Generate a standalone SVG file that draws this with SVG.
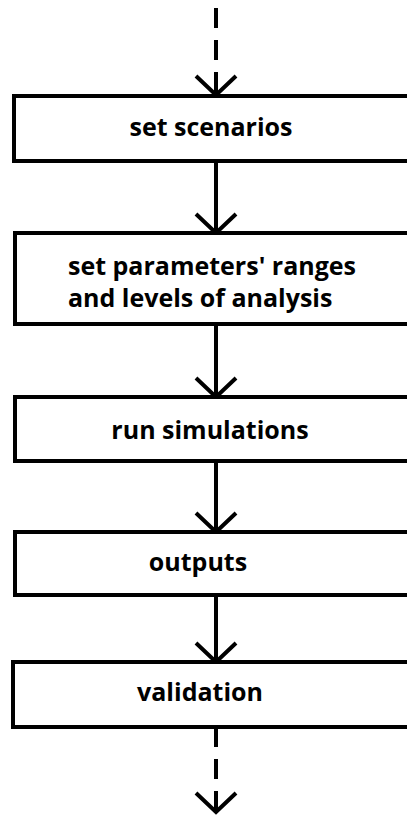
<svg xmlns="http://www.w3.org/2000/svg" width="407" height="816" viewBox="0 0 407 816">
  <style>
    .box { fill: #ffffff; stroke: #000000; stroke-width: 4; }
    .lbl { font-family: "Open Sans", "Liberation Sans", sans-serif; font-weight: 700; font-size: 25px; fill: #000000; }
    .wire { stroke: #000000; stroke-width: 4; fill: none; }
    .dash { stroke-dasharray: 20 12; }
    .head { stroke: #000000; stroke-width: 4; fill: none; stroke-linejoin: miter; }
  </style>
  <rect width="407" height="816" fill="#ffffff"/>

  <g id="connectors">
    <line class="wire dash" x1="216" y1="8" x2="216" y2="95"/>
    <polyline class="head" points="196,76 216,95 236,76"/>
    <line class="wire" x1="216" y1="161" x2="216" y2="233"/>
    <polyline class="head" points="196,214 216,233 236,214"/>
    <line class="wire" x1="216" y1="324" x2="216" y2="397"/>
    <polyline class="head" points="196,378 216,397 236,378"/>
    <line class="wire" x1="216" y1="461" x2="216" y2="532"/>
    <polyline class="head" points="196,513 216,532 236,513"/>
    <line class="wire" x1="216" y1="595" x2="216" y2="662"/>
    <polyline class="head" points="196,643 216,662 236,643"/>
    <line class="wire dash" x1="216" y1="727" x2="216" y2="812" stroke-dasharray="16 12"/>
    <polyline class="head" points="196,793 216,812 236,793"/>
  </g>

  <g id="set-scenarios">
    <rect class="box" x="14" y="96" width="410" height="65"/>
    <text class="lbl" x="211" y="136" text-anchor="middle">set scenarios</text>
  </g>
  <g id="set-parameters">
    <rect class="box" x="15" y="233" width="410" height="91"/>
    <text class="lbl" x="68" y="275">set parameters' ranges</text>
    <text class="lbl" x="68" y="307">and levels of analysis</text>
  </g>
  <g id="run-simulations">
    <rect class="box" x="15" y="397" width="410" height="64"/>
    <text class="lbl" x="210" y="439" text-anchor="middle">run simulations</text>
  </g>
  <g id="outputs">
    <rect class="box" x="15" y="532" width="410" height="63"/>
    <text class="lbl" x="198" y="571" text-anchor="middle">outputs</text>
  </g>
  <g id="validation">
    <rect class="box" x="13" y="662" width="410" height="65"/>
    <text class="lbl" x="200" y="701" text-anchor="middle">validation</text>
  </g>
</svg>
